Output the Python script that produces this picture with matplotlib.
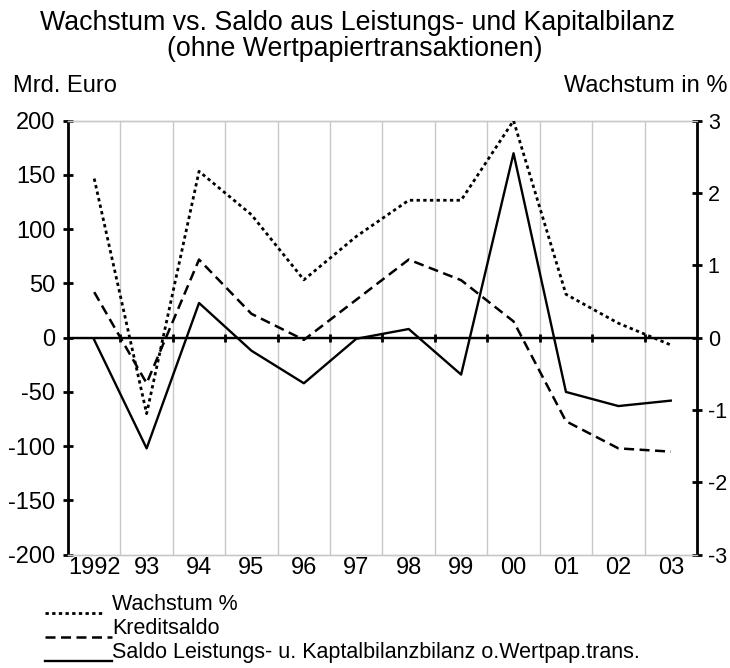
import matplotlib
matplotlib.use('Agg')
import matplotlib.pyplot as plt
from matplotlib.lines import Line2D

plt.rcParams['font.family'] = ['Liberation Sans', 'DejaVu Sans']
plt.rcParams['axes.unicode_minus'] = False

years = ['1992', '93', '94', '95', '96', '97', '98', '99', '00', '01', '02', '03']
wachstum = [2.2, -1.05, 2.3, 1.7, 0.8, 1.4, 1.9, 1.9, 3.0, 0.6, 0.2, -0.1]
kreditsaldo = [42, -42, 72, 22, -2, 35, 72, 53, 15, -77, -102, -105]
saldo = [-2, -102, 32, -12, -42, -1, 8, -34, 170, -50, -63, -58]
left_ticks = list(range(-200, 201, 50))
right_ticks = list(range(-3, 4))

title_lines = ["Wachstum vs. Saldo aus Leistungs- und Kapitalbilanz",
               "(ohne Wertpapiertransaktionen)"]
labels = ["Wachstum %", "Kreditsaldo",
          "Saldo Leistungs- u. Kaptalbilanzbilanz o.Wertpap.trans."]

W, H = 730, 668
fig = plt.figure(figsize=(W / 100, H / 100), dpi=100)
ax = fig.add_axes([68/W, 1-554.7/H, (697-68)/W, (554.7-120.7)/H])
ax2 = ax.twinx()

x = list(range(len(years)))
bounds = [i + 0.5 for i in range(len(years) - 1)]

ax.set_xlim(-0.5, len(years) - 0.5)
ax.set_ylim(left_ticks[0], left_ticks[-1])
ax2.set_ylim(right_ticks[0], right_ticks[-1])

for b in bounds:
    ax.axvline(b, color='#c8c8c8', lw=1, zorder=0)
ax.axhline(0, color='black', lw=1.7, zorder=3)

styles = [dict(lw=2.0, linestyle=(0, (1.2, 1.2))),
          dict(lw=1.8, linestyle=(0, (4.0, 2.2))),
          dict(lw=1.7, linestyle='-')]

ax2.plot(x, wachstum, color='black', zorder=4, **styles[0])
ax.plot(x, kreditsaldo, color='black', zorder=4, **styles[1])
ax.plot(x, saldo, color='black', zorder=4, **styles[2])

ax.set_xticks(x)
ax.set_xticklabels(years)
ax.tick_params(axis='x', length=0, pad=2, labelsize=17)
ax.set_yticks(left_ticks)
ax.tick_params(axis='y', direction='inout', length=6.5, width=2, pad=6, labelsize=17)
ax2.set_yticks(right_ticks)
ax2.tick_params(axis='y', direction='inout', length=6.5, width=2, pad=4.5, labelsize=15.5)

for a in (ax, ax2):
    a.spines['top'].set_color('#c8c8c8')
    a.spines['bottom'].set_color('#c8c8c8')
    a.spines['top'].set_linewidth(1)
    a.spines['bottom'].set_linewidth(1)
ax.spines['left'].set_linewidth(2)
ax2.spines['right'].set_linewidth(2)
ax.spines['right'].set_visible(False)
ax2.spines['left'].set_visible(False)

sec = ax.secondary_xaxis(0.5)
sec.set_xticks(bounds)
sec.set_xticklabels([''] * len(bounds))
sec.tick_params(direction='inout', length=6, width=2)
sec.spines['bottom'].set_visible(False)

fig.text(358/W, 1-30.5/H, title_lines[0], ha='center', va='baseline', fontsize=19.3)
fig.text(355/W, 1-56.5/H, title_lines[1], ha='center', va='baseline', fontsize=19.3)
fig.text(13/W, 1-92/H, "Mrd. Euro", ha='left', va='baseline', fontsize=17)
fig.text(727/W, 1-92/H, "Wachstum in %", ha='right', va='baseline', fontsize=17)

# legend (manual layout: sample line + label per row)
row_base = [610, 634, 658]
line_ends = [104, 112, 112]
for st, lab, yb, xe in zip(styles, labels, row_base, line_ends):
    fig.add_artist(Line2D([45/W, xe/W], [1-(yb+3)/H, 1-(yb+3)/H], transform=fig.transFigure,
                          color='black', **st))
    fig.text(112/W, 1-yb/H, lab, ha='left', va='baseline', fontsize=15.5)

fig.savefig('out.png', dpi=100)
